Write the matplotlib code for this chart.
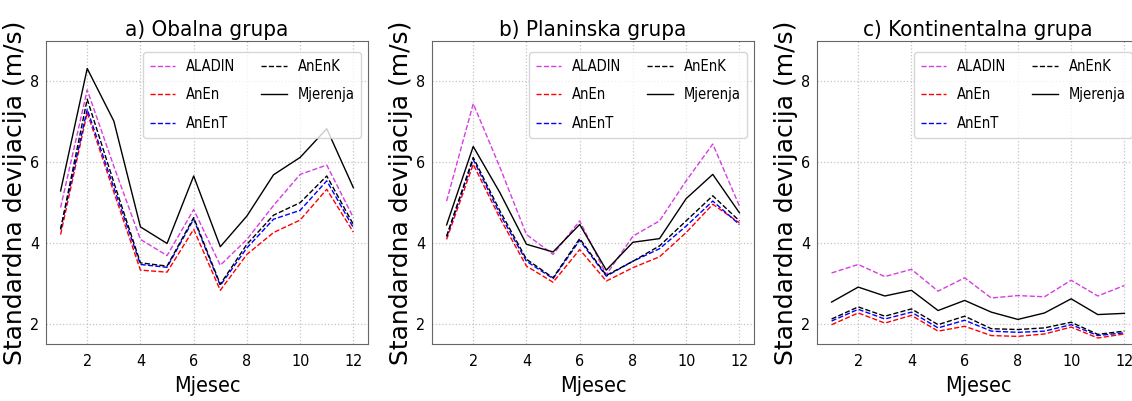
import matplotlib
matplotlib.use("Agg")
import matplotlib.pyplot as plt
from matplotlib.font_manager import FontProperties

months = [1, 2, 3, 4, 5, 6, 7, 8, 9, 10, 11, 12]
titles = ['a) Obalna grupa', 'b) Planinska grupa', 'c) Kontinentalna grupa']
labels = ['ALADIN', 'AnEn', 'AnEnT', 'AnEnK', 'Mjerenja']

# a) Obalna grupa
obalna_aladin = [4.88, 7.79, 5.90, 4.09, 3.69, 4.83, 3.45, 4.09, 4.93, 5.70, 5.93, 4.63]
obalna_anen = [4.21, 7.23, 5.26, 3.33, 3.28, 4.34, 2.83, 3.72, 4.26, 4.57, 5.33, 4.27]
obalna_anent = [4.34, 7.31, 5.37, 3.47, 3.40, 4.59, 2.95, 3.88, 4.59, 4.81, 5.54, 4.38]
obalna_anenk = [4.34, 7.56, 5.50, 3.51, 3.43, 4.63, 2.98, 3.97, 4.69, 5.00, 5.66, 4.46]
obalna_mjer = [5.29, 8.32, 7.02, 4.40, 3.99, 5.66, 3.91, 4.67, 5.69, 6.12, 6.83, 5.37]

# b) Planinska grupa
planinska_aladin = [5.04, 7.45, 5.88, 4.21, 3.72, 4.55, 3.22, 4.17, 4.55, 5.54, 6.45, 4.92]
planinska_anen = [4.09, 5.95, 4.62, 3.43, 3.03, 3.84, 3.06, 3.39, 3.66, 4.26, 4.96, 4.50]
planinska_anent = [4.16, 6.07, 4.72, 3.55, 3.12, 4.07, 3.18, 3.55, 3.86, 4.42, 5.04, 4.46]
planinska_anenk = [4.17, 6.12, 4.80, 3.60, 3.14, 4.11, 3.20, 3.55, 3.93, 4.55, 5.17, 4.55]
planinska_mjer = [4.45, 6.39, 5.25, 3.97, 3.78, 4.46, 3.33, 4.02, 4.11, 5.10, 5.70, 4.75]

# c) Kontinentalna grupa
kont_aladin = [3.26, 3.47, 3.17, 3.35, 2.81, 3.14, 2.64, 2.70, 2.67, 3.08, 2.69, 2.95]
kont_anen = [1.98, 2.27, 2.02, 2.21, 1.82, 1.94, 1.71, 1.69, 1.75, 1.92, 1.65, 1.75]
kont_anent = [2.07, 2.36, 2.12, 2.29, 1.90, 2.09, 1.82, 1.79, 1.82, 1.98, 1.71, 1.78]
kont_anenk = [2.12, 2.42, 2.19, 2.37, 1.98, 2.19, 1.88, 1.86, 1.90, 2.04, 1.74, 1.82]
kont_mjer = [2.54, 2.91, 2.69, 2.83, 2.33, 2.58, 2.29, 2.11, 2.27, 2.62, 2.23, 2.26]

groups = [
    [obalna_aladin, obalna_anen, obalna_anent, obalna_anenk, obalna_mjer],
    [planinska_aladin, planinska_anen, planinska_anent, planinska_anenk, planinska_mjer],
    [kont_aladin, kont_anen, kont_anent, kont_anenk, kont_mjer],
]
styles = [('#d63ee0', '--'), ('red', '--'), ('blue', '--'), ('black', '--'), ('black', '-')]


def cond(size):
    return FontProperties(family='DejaVu Sans', stretch='condensed', size=size)


fig = plt.figure(figsize=(11.32, 4.01), dpi=100)
lefts = [0.0406, 0.3816, 0.7217]

for i in range(3):
    ax = fig.add_axes([lefts[i], 0.142, 0.2845, 0.7556])
    for vals, lab, (col, ls) in zip(groups[i], labels, styles):
        ax.plot(months, vals, color=col, linestyle=ls, linewidth=1, label=lab)
    ax.set_xlim(0.45, 12.55)
    ax.set_ylim(1.5, 9.0)
    ax.set_xticks([2, 4, 6, 8, 10, 12])
    ax.set_yticks([2, 4, 6, 8])
    ax.grid(True, linestyle=':', color='#c4c4c4', linewidth=0.9)
    for s in ax.spines.values():
        s.set_color('#666666')
    ax.tick_params(axis='x', length=0, pad=7)
    ax.tick_params(axis='y', length=0, pad=5)
    for t in ax.get_xticklabels() + ax.get_yticklabels():
        t.set_fontproperties(cond(11.5))
    ax.set_title(titles[i], fontproperties=cond(16), pad=4)
    ax.set_xlabel('Mjesec', fontproperties=cond(15.5), labelpad=5)
    ax.set_ylabel('Standardna devijacija (m/s)', family='DejaVu Sans', fontsize=18)
    ax.yaxis.set_label_coords(-0.058, 0.5)
    ax.legend(loc='upper right', bbox_to_anchor=(1 - 7 / 322, 1 - 11 / 303), borderaxespad=0,
              ncol=2, prop=cond(10.5), handlelength=1.75, handletextpad=0.75,
              columnspacing=1.75, labelspacing=0.95, borderpad=0.45, fancybox=True)

fig.savefig('out.png', dpi=100)
